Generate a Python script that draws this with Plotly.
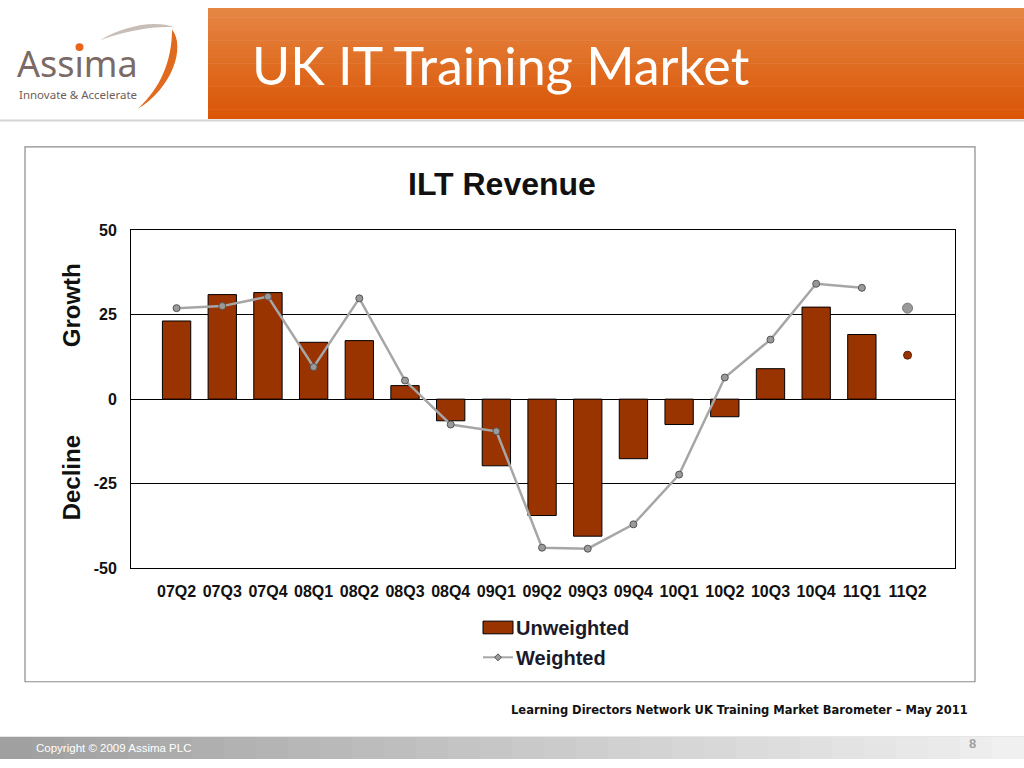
import plotly.graph_objects as go

# ---- data ----
quarters = ["07Q2", "07Q3", "07Q4", "08Q1", "08Q2", "08Q3", "08Q4", "09Q1",
            "09Q2", "09Q3", "09Q4", "10Q1", "10Q2", "10Q3", "10Q4", "11Q1", "11Q2"]
unweighted = [23.1, 30.9, 31.5, 16.8, 17.3, 4.0, -6.4, -19.7,
              -34.4, -40.5, -17.6, -7.5, -5.2, 9.0, 27.2, 19.1, None]
weighted = [26.9, 27.5, 30.3, 9.5, 29.8, 5.5, -7.5, -9.5,
            -43.9, -44.2, -37.0, -22.3, 6.4, 17.6, 34.1, 32.9, None]
forecast_q = ["11Q2"]
forecast_unweighted = [13.0]
forecast_weighted = [26.9]
y_ticks = [-50, -25, 0, 25, 50]
y_tick_text = ["-50", "-25", "0", "25", "50"]

W, H = 1024, 768

BAR_C = "#993300"
LINE_C = "#A6A6A6"


def px(x):
    return x / W


def py(y):
    return 1 - y / H


fig = go.Figure()

fig.add_trace(go.Bar(
    x=quarters, y=unweighted, name="Unweighted", showlegend=False,
    marker=dict(color=BAR_C, line=dict(color="#000000", width=1)),
))
fig.add_trace(go.Scatter(
    x=quarters, y=weighted, name="Weighted", mode="lines+markers", showlegend=False,
    line=dict(color=LINE_C, width=2.5),
    marker=dict(symbol="circle", size=7, color="#9A9A9A",
                line=dict(color="#555555", width=1)),
))
fig.add_trace(go.Scatter(
    x=forecast_q, y=forecast_weighted, mode="markers", showlegend=False,
    marker=dict(symbol="circle", size=10, color="#9A9A9A",
                line=dict(color="#7A7A7A", width=1)),
))
fig.add_trace(go.Scatter(
    x=forecast_q, y=forecast_unweighted, mode="markers", showlegend=False,
    marker=dict(symbol="circle", size=8, color=BAR_C,
                line=dict(color="#662200", width=1)),
))

shapes = []

# header gradient
top_c = (230, 134, 68)
bot_c = (218, 86, 6)
n = 24
for i in range(n):
    t = i / (n - 1)
    c = tuple(int(top_c[k] + (bot_c[k] - top_c[k]) * t) for k in range(3))
    y0 = 113 * i / n
    y1 = 113 * (i + 1) / n + 0.5
    shapes.append(dict(type="rect", xref="paper", yref="paper",
                       x0=px(208), x1=px(1024), y0=py(y1), y1=py(y0),
                       fillcolor="rgb(%d,%d,%d)" % c, line=dict(width=0), layer="below"))
shapes.append(dict(type="line", xref="paper", yref="paper",
                   x0=0, x1=1, y0=py(115), y1=py(115),
                   line=dict(color="#D4D4D4", width=2), layer="below"))

# footer gradient
left_c = (160, 160, 160)
right_c = (240, 240, 240)
m = 32
for i in range(m):
    t = i / (m - 1)
    c = tuple(int(left_c[k] + (right_c[k] - left_c[k]) * t) for k in range(3))
    x0 = W * i / m
    x1 = W * (i + 1) / m + 0.5
    shapes.append(dict(type="rect", xref="paper", yref="paper",
                       x0=px(x0), x1=px(x1), y0=0, y1=py(745),
                       fillcolor="rgb(%d,%d,%d)" % c, line=dict(width=0), layer="below"))
shapes.append(dict(type="line", xref="paper", yref="paper",
                   x0=0, x1=1, y0=py(745), y1=py(745),
                   line=dict(color="#E6E6E6", width=1), layer="below"))

# chart box
shapes.append(dict(type="rect", xref="paper", yref="paper",
                   x0=px(25), x1=px(975), y0=py(689), y1=py(142),
                   line=dict(color="#8C8C8C", width=1.2), fillcolor="rgba(0,0,0,0)",
                   layer="below"))


def path(points):
    s = "M %f,%f " % (px(points[0][0]), py(points[0][1]))
    rest = points[1:]
    for j in range(0, len(rest), 3):
        a, b, c = rest[j], rest[j + 1], rest[j + 2]
        s += "C %f,%f %f,%f %f,%f " % (px(a[0]), py(a[1]), px(b[0]), py(b[1]), px(c[0]), py(c[1]))
    return s + "Z"


# logo swooshes
shapes.append(dict(type="path", xref="paper", yref="paper",
                   path=path([(100, 33), (125, 18), (155, 12), (175, 20),
                              (160, 18), (130, 22), (100, 33)]),
                   fillcolor="#C9BDB8", line=dict(width=0)))
shapes.append(dict(type="path", xref="paper", yref="paper",
                   path=path([(172, 22), (186, 40), (172, 82), (138, 103),
                              (160, 82), (172, 55), (172, 22)]),
                   fillcolor="#E06A1E", line=dict(width=0)))
shapes.append(dict(type="circle", xref="paper", yref="paper",
                   x0=px(75.5), x1=px(83.5), y0=py(44), y1=py(36),
                   fillcolor="#E8651A", line=dict(width=0)))

# custom legend keys
shapes.append(dict(type="rect", xref="paper", yref="paper",
                   x0=px(483), x1=px(513), y0=py(640), y1=py(627),
                   fillcolor=BAR_C, line=dict(color="#000000", width=1)))
shapes.append(dict(type="line", xref="paper", yref="paper",
                   x0=px(483), x1=px(513), y0=py(664), y1=py(664),
                   line=dict(color=LINE_C, width=2)))
shapes.append(dict(type="path", xref="paper", yref="paper",
                   path="M %f,%f L %f,%f L %f,%f L %f,%f Z" % (
                       px(494.5), py(664), px(498), py(660.5),
                       px(501.5), py(664), px(498), py(667.5)),
                   fillcolor="#9A9A9A", line=dict(color="#555555", width=1)))

annotations = [
    dict(text="UK IT Training Market", x=px(250), y=py(58), xref="paper", yref="paper",
         xanchor="left", yanchor="middle", showarrow=False,
         font=dict(family="Lato", size=52, color="#FFFFFF")),
    dict(text="Ass\u0131ma", x=px(15), y=py(57), xref="paper", yref="paper",
         xanchor="left", yanchor="middle", showarrow=False,
         font=dict(family="Noto Sans", size=36, color="#7B6A65")),
    dict(text="Innovate &amp; Accelerate", x=px(17), y=py(88), xref="paper", yref="paper",
         xanchor="left", yanchor="middle", showarrow=False,
         font=dict(family="Noto Sans", size=11.5, color="#6E5E59")),
    dict(text="<b>ILT Revenue</b>", x=px(502), y=py(180), xref="paper", yref="paper",
         xanchor="center", yanchor="middle", showarrow=False,
         font=dict(family="Liberation Sans", size=32, color="#111111")),
    dict(text="<b>Growth</b>", x=px(71), y=py(304), xref="paper", yref="paper",
         xanchor="center", yanchor="middle", showarrow=False, textangle=-90,
         font=dict(family="Liberation Sans", size=24, color="#111111")),
    dict(text="<b>Decline</b>", x=px(71), y=py(481), xref="paper", yref="paper",
         xanchor="center", yanchor="middle", showarrow=False, textangle=-90,
         font=dict(family="Liberation Sans", size=24, color="#111111")),
    dict(text="<b>Unweighted</b>", x=px(514), y=py(634), xref="paper", yref="paper",
         xanchor="left", yanchor="middle", showarrow=False,
         font=dict(family="Liberation Sans", size=20, color="#1A1A2A")),
    dict(text="<b>Weighted</b>", x=px(514), y=py(665), xref="paper", yref="paper",
         xanchor="left", yanchor="middle", showarrow=False,
         font=dict(family="Liberation Sans", size=20, color="#1A1A2A")),
    dict(text="<b>Learning Directors Network UK Training Market Barometer \u2013 May 2011</b>",
         x=px(970), y=py(718), xref="paper", yref="paper",
         xanchor="right", yanchor="middle", showarrow=False,
         font=dict(family="DejaVu Sans", size=11.5, color="#111111")),
    dict(text="Copyright \u00a9 2009 Assima PLC", x=px(34), y=py(757), xref="paper", yref="paper",
         xanchor="left", yanchor="middle", showarrow=False,
         font=dict(family="Liberation Sans", size=11.5, color="#FFFFFF")),
    dict(text="<b>8</b>", x=px(978), y=py(752), xref="paper", yref="paper",
         xanchor="right", yanchor="middle", showarrow=False,
         font=dict(family="Liberation Sans", size=13, color="#A0A0A0")),
]

fig.update_layout(
    width=W, height=H, margin=dict(l=0, r=0, t=0, b=0),
    paper_bgcolor="#FFFFFF", plot_bgcolor="#FFFFFF",
    bargap=0.38, showlegend=False,
    shapes=shapes, annotations=annotations,
    xaxis=dict(domain=[px(131), px(955)], categoryorder="array", categoryarray=quarters,
               showline=True, mirror=True, linecolor="#000000", linewidth=1,
               showgrid=False, ticks="", ticklabelstandoff=8,
               tickfont=dict(family="Liberation Sans", size=16, color="#111111", weight="bold"),
               fixedrange=True),
    yaxis=dict(domain=[py(573), py(227)], range=[-50, 50], tickvals=y_ticks,
               ticktext=y_tick_text,
               showline=True, mirror=True, linecolor="#000000", linewidth=1,
               showgrid=True, gridcolor="#000000", gridwidth=1,
               zeroline=True, zerolinecolor="#000000", zerolinewidth=1,
               ticks="", ticklabelstandoff=10,
               tickfont=dict(family="Liberation Sans", size=16, color="#111111", weight="bold"),
               fixedrange=True),
)

fig.write_html(
    "out.html",
    config={"displayModeBar": False},
    post_script=(
        "document.documentElement.style.margin='0px';"
        "document.documentElement.style.overflow='hidden';"
        "document.body.style.margin='0px';document.body.style.padding='0px';"
        "document.body.style.overflow='hidden';"
        "var gd=document.getElementById('{plot_id}');"
        "gd.style.position='fixed';gd.style.top='0px';gd.style.left='0px';"
        "setTimeout(function(){Plotly.relayout(gd,{width:1024,height:768});},100);"
    ),
)
